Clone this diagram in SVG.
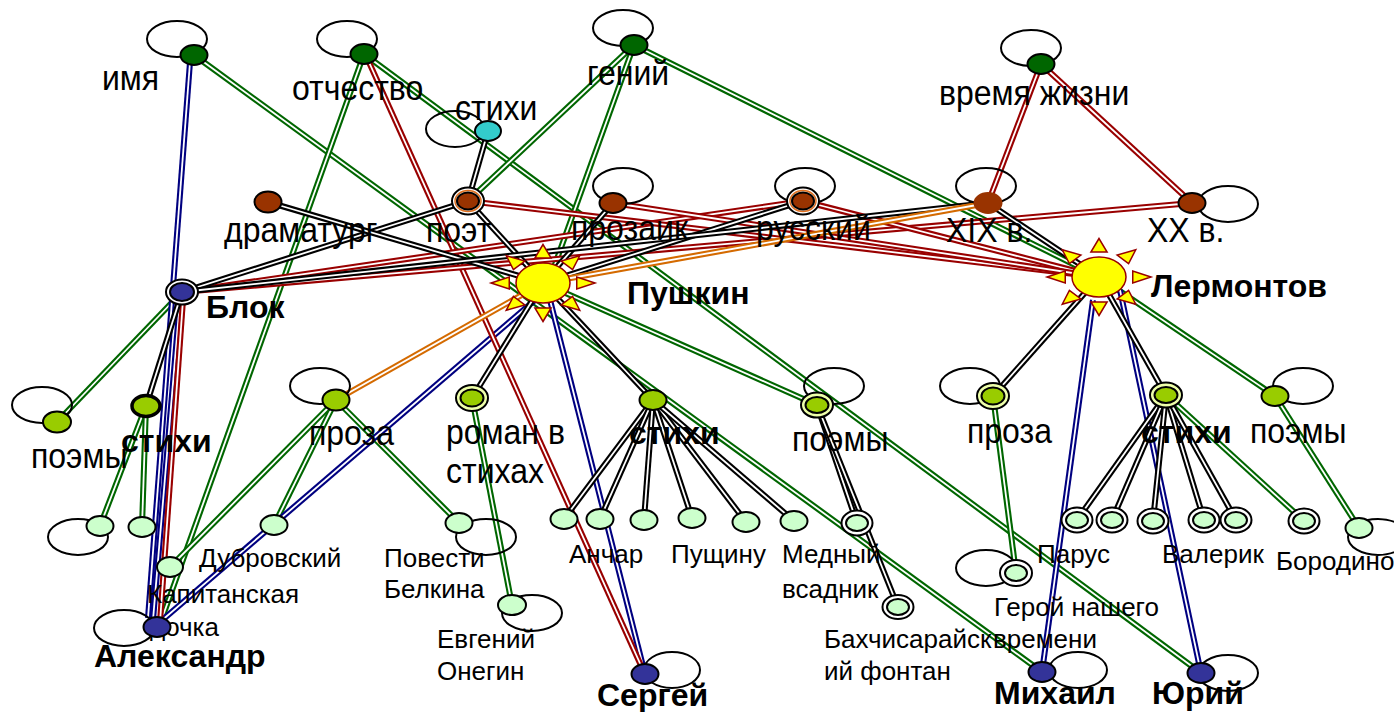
<svg xmlns="http://www.w3.org/2000/svg" xmlns:xlink="http://www.w3.org/1999/xlink" width="1394" height="712" viewBox="0 0 1394 712">
<style>
.c{fill:none;stroke-width:6}
.w{fill:none;stroke:#fff;stroke-width:1.8}
.g{stroke:#006600}.r{stroke:#990000}.b{stroke:#000080}.k{stroke:#000}.o{stroke:#d46a00}
.lp{fill:none;stroke:#000;stroke-width:2}
.nd{stroke:#000;stroke-width:2}
.dg{fill:#006600}.cy{fill:#33cccc}.br{fill:#993300}.nb{fill:#333399}.ol{fill:#99cc00}.lg{fill:#ccffcc}
.ring{fill:#fff;stroke:#000;stroke-width:2}
.t{font-family:"Liberation Sans",Arial,sans-serif;font-size:32px;fill:#000}
.s{font-size:26px}
.bd{font-weight:bold}
.ray{fill:#ffff00;stroke:#990000;stroke-width:1.5}
</style>
<defs>
<g id="sun">
<g transform="scale(1.35,1)">
<polygon class="ray" vector-effect="non-scaling-stroke" points="0,-38.5 -6,-25 6,-25"/>
<polygon class="ray" vector-effect="non-scaling-stroke" points="0,-38.5 -6,-25 6,-25" transform="rotate(45)"/>
<polygon class="ray" vector-effect="non-scaling-stroke" points="0,-38.5 -6,-25 6,-25" transform="rotate(90)"/>
<polygon class="ray" vector-effect="non-scaling-stroke" points="0,-38.5 -6,-25 6,-25" transform="rotate(135)"/>
<polygon class="ray" vector-effect="non-scaling-stroke" points="0,-38.5 -6,-25 6,-25" transform="rotate(180)"/>
<polygon class="ray" vector-effect="non-scaling-stroke" points="0,-38.5 -6,-25 6,-25" transform="rotate(225)"/>
<polygon class="ray" vector-effect="non-scaling-stroke" points="0,-38.5 -6,-25 6,-25" transform="rotate(270)"/>
<polygon class="ray" vector-effect="non-scaling-stroke" points="0,-38.5 -6,-25 6,-25" transform="rotate(315)"/>
<circle class="ray" vector-effect="non-scaling-stroke" r="20"/>
</g>
</g>
</defs>
<rect width="1394" height="712" fill="#fff"/>

<!-- connectors: coloured double lines (outer stroke + white core) -->
<g id="connectors">
<!-- green -->
<path class="c g" d="M194 55L1042 672"/><path class="w" d="M194 55L1042 672"/>
<path class="c g" d="M364 54L160 624"/><path class="w" d="M364 54L160 624"/>
<path class="c g" d="M364 54L1201 673"/><path class="w" d="M364 54L1201 673"/>
<path class="c g" d="M634 45L468 201"/><path class="w" d="M634 45L468 201"/>
<path class="c g" d="M634 45L553 270"/><path class="w" d="M634 45L553 270"/>
<path class="c g" d="M634 45L1099 277"/><path class="w" d="M634 45L1099 277"/>
<path class="c g" d="M182 292L57 422"/><path class="w" d="M182 292L57 422"/>
<path class="c g" d="M146 406L100 526"/><path class="w" d="M146 406L100 526"/>
<path class="c g" d="M146 406L142 527"/><path class="w" d="M146 406L142 527"/>
<path class="c g" d="M336 400L274 525"/><path class="w" d="M336 400L274 525"/>
<path class="c g" d="M336 400L170 567"/><path class="w" d="M336 400L170 567"/>
<path class="c g" d="M336 400L459 523"/><path class="w" d="M336 400L459 523"/>
<path class="c g" d="M472 398L512 605"/><path class="w" d="M472 398L512 605"/>
<path class="c g" d="M543 283L817 405"/><path class="w" d="M543 283L817 405"/>
<path class="c g" d="M1099 277L1275 396"/><path class="w" d="M1099 277L1275 396"/>
<path class="c g" d="M993 396L1016 573"/><path class="w" d="M993 396L1016 573"/>
<path class="c g" d="M1166 395L1304 521"/><path class="w" d="M1166 395L1304 521"/>
<path class="c g" d="M1275 396L1359 528"/><path class="w" d="M1275 396L1359 528"/>
<!-- blue -->
<path class="c b" d="M190 62L148 618"/><path class="w" d="M190 62L148 618"/>
<path class="c b" d="M180 300L153 620"/><path class="w" d="M180 300L153 620"/>
<path class="c b" d="M535 300L160 622"/><path class="w" d="M535 300L160 622"/>
<path class="c b" d="M550 300L645 674"/><path class="w" d="M550 300L645 674"/>
<path class="c b" d="M1093 300L1042 672"/><path class="w" d="M1093 300L1042 672"/>
<path class="c b" d="M1120 290L1201 673"/><path class="w" d="M1120 290L1201 673"/>
<!-- red -->
<path class="c r" d="M368 60L643 670"/><path class="w" d="M368 60L643 670"/>
<path class="c r" d="M1041 64L988 203"/><path class="w" d="M1041 64L988 203"/>
<path class="c r" d="M1041 64L1192 203"/><path class="w" d="M1041 64L1192 203"/>
<path class="c r" d="M1192 203L182 292"/><path class="w" d="M1192 203L182 292"/>
<path class="c r" d="M803 201L182 292"/><path class="w" d="M803 201L182 292"/>
<path class="c r" d="M468 201L1099 277"/><path class="w" d="M468 201L1099 277"/>
<path class="c r" d="M803 201L1099 277"/><path class="w" d="M803 201L1099 277"/>
<path class="c r" d="M613 203L1099 277"/><path class="w" d="M613 203L1099 277"/>
<path class="c r" d="M183 300L160 622"/><path class="w" d="M183 300L160 622"/>
<!-- black -->
<path class="c k" d="M488 131L468 201"/><path class="w" d="M488 131L468 201"/>
<path class="c k" d="M468 201L543 283"/><path class="w" d="M468 201L543 283"/>
<path class="c k" d="M468 201L182 292"/><path class="w" d="M468 201L182 292"/>
<path class="c k" d="M268 202L543 283"/><path class="w" d="M268 202L543 283"/>
<path class="c k" d="M613 203L543 283"/><path class="w" d="M613 203L543 283"/>
<path class="c k" d="M803 201L543 283"/><path class="w" d="M803 201L543 283"/>
<path class="c k" d="M988 203L182 292"/><path class="w" d="M988 203L182 292"/>
<path class="c k" d="M988 203L1099 277"/><path class="w" d="M988 203L1099 277"/>
<path class="c k" d="M182 292L146 406"/><path class="w" d="M182 292L146 406"/>
<path class="c k" d="M543 283L472 398"/><path class="w" d="M543 283L472 398"/>
<path class="c k" d="M543 283L653 400"/><path class="w" d="M543 283L653 400"/>
<path class="c k" d="M653 400L564 519"/><path class="w" d="M653 400L564 519"/>
<path class="c k" d="M653 400L600 519"/><path class="w" d="M653 400L600 519"/>
<path class="c k" d="M653 400L644 520"/><path class="w" d="M653 400L644 520"/>
<path class="c k" d="M653 400L692 518"/><path class="w" d="M653 400L692 518"/>
<path class="c k" d="M653 400L746 522"/><path class="w" d="M653 400L746 522"/>
<path class="c k" d="M653 400L794 521"/><path class="w" d="M653 400L794 521"/>
<path class="c k" d="M817 405L857 523"/><path class="w" d="M817 405L857 523"/>
<path class="c k" d="M817 405L898 607"/><path class="w" d="M817 405L898 607"/>
<path class="c k" d="M1099 277L993 396"/><path class="w" d="M1099 277L993 396"/>
<path class="c k" d="M1099 277L1166 395"/><path class="w" d="M1099 277L1166 395"/>
<path class="c k" d="M1166 395L1077 520"/><path class="w" d="M1166 395L1077 520"/>
<path class="c k" d="M1166 395L1112 520"/><path class="w" d="M1166 395L1112 520"/>
<path class="c k" d="M1166 395L1153 521"/><path class="w" d="M1166 395L1153 521"/>
<path class="c k" d="M1166 395L1204 520"/><path class="w" d="M1166 395L1204 520"/>
<path class="c k" d="M1166 395L1236 520"/><path class="w" d="M1166 395L1236 520"/>
<!-- orange -->
<path class="c o" d="M336 400L543 283"/><path class="w" d="M336 400L543 283"/>
<path class="c o" d="M543 283L988 203"/><path class="w" d="M543 283L988 203"/>
</g>

<!-- top-level properties -->
<g id="n-imya"><ellipse class="lp" cx="177" cy="39" rx="30" ry="18"/><ellipse class="nd dg" cx="194" cy="55" rx="13.5" ry="10"/><text class="t" transform="translate(102,90) scale(1,1.08)">имя</text></g>
<g id="n-otchestvo"><ellipse class="lp" cx="347" cy="39" rx="30" ry="18"/><ellipse class="nd dg" cx="364" cy="54" rx="13.5" ry="10"/><text class="t" transform="translate(292,100) scale(1,1.08)">отчество</text></g>
<g id="n-genij"><ellipse class="lp" cx="623" cy="28" rx="30" ry="18"/><ellipse class="nd dg" cx="634" cy="45" rx="13.5" ry="10"/><text class="t" transform="translate(587,85) scale(1,1.08)">гений</text></g>
<g id="n-stihi-top"><ellipse class="lp" cx="455" cy="129" rx="29" ry="18"/><ellipse class="nd cy" cx="488" cy="131" rx="13" ry="10"/><text class="t" transform="translate(455,120) scale(1,1.08)">стихи</text></g>
<g id="n-vremya"><ellipse class="lp" cx="1031" cy="48" rx="30" ry="18"/><ellipse class="nd dg" cx="1041" cy="64" rx="13.5" ry="10"/><text class="t" transform="translate(939,105) scale(1,1.08)">время жизни</text></g>

<!-- categories -->
<g id="n-dramaturg"><ellipse class="nd br" cx="268" cy="202" rx="13.5" ry="10.5"/><text class="t" transform="translate(224,242) scale(1,1.08)">драматург</text></g>
<g id="n-poet"><ellipse class="ring" cx="468" cy="201" rx="16" ry="13.5"/><ellipse cx="468" cy="201" rx="13" ry="10.5" fill="none" stroke="#e07020" stroke-width="1.5"/><ellipse class="nd br" cx="468" cy="201" rx="11" ry="8.5"/><text class="t" transform="translate(426,242) scale(1,1.08)">поэт</text></g>
<g id="n-prozaik"><ellipse class="lp" cx="623" cy="186" rx="30" ry="18"/><ellipse class="nd br" cx="613" cy="203" rx="13.5" ry="10"/><text class="t" transform="translate(571,240) scale(1,1.08)">прозаик</text></g>
<g id="n-russkij"><ellipse class="lp" cx="805" cy="186" rx="30" ry="18"/><ellipse class="ring" cx="803" cy="201" rx="16" ry="13.5"/><ellipse cx="803" cy="201" rx="13" ry="10.5" fill="none" stroke="#e07020" stroke-width="1.5"/><ellipse class="nd br" cx="803" cy="201" rx="11" ry="8.5"/><text class="t" transform="translate(756,240) scale(1,1.08)">русский</text></g>
<g id="n-xix"><ellipse class="lp" cx="986" cy="186" rx="30" ry="18"/><ellipse class="br" cx="988" cy="203" rx="13.5" ry="10" stroke="#993300" stroke-width="2"/><text class="t" transform="translate(946,242) scale(1,1.08)">XIX в.</text></g>
<g id="n-xx"><ellipse class="lp" cx="1228" cy="204" rx="30" ry="18"/><ellipse class="nd br" cx="1192" cy="203" rx="13.5" ry="10"/><text class="t" transform="translate(1147,242) scale(1,1.08)">XX в.</text></g>

<!-- poets -->
<g id="n-pushkin"><use xlink:href="#sun" href="#sun" transform="translate(543,283)"/><text class="t bd" x="627" y="304">Пушкин</text></g>
<g id="n-lermontov"><use xlink:href="#sun" href="#sun" transform="translate(1099,277)"/><text class="t bd" x="1151" y="297">Лермонтов</text></g>
<g id="n-blok"><ellipse class="ring" cx="182" cy="292" rx="16" ry="12.5"/><ellipse class="nd nb" cx="182" cy="292" rx="12" ry="9"/><text class="t bd" x="206" y="318">Блок</text></g>

<!-- genres -->
<g id="n-blok-poemy"><ellipse class="lp" cx="42" cy="405" rx="30" ry="18"/><ellipse class="nd ol" cx="57" cy="422" rx="14" ry="10.5"/><text class="t" transform="translate(31,468) scale(1,1.08)">поэмы</text></g>
<g id="n-blok-stihi"><ellipse class="ol" cx="146" cy="406" rx="14" ry="10.5" stroke="#000" stroke-width="3.5"/><text class="t bd" x="121" y="452">стихи</text></g>
<g id="n-push-proza"><ellipse class="lp" cx="320" cy="386" rx="30" ry="18"/><ellipse class="nd ol" cx="336" cy="400" rx="13.5" ry="10.5"/><text class="t" transform="translate(309,445) scale(1,1.08)">проза</text></g>
<g id="n-push-roman"><ellipse cx="472" cy="398" rx="16" ry="13" fill="#eeffaa" stroke="#000" stroke-width="2"/><ellipse class="nd ol" cx="472" cy="398" rx="11.5" ry="8.5"/><text class="t" transform="translate(446,444) scale(1,1.08)">роман в</text><text class="t" transform="translate(446,483) scale(1,1.08)">стихах</text></g>
<g id="n-push-stihi"><ellipse class="nd ol" cx="653" cy="400" rx="13.5" ry="10"/><text class="t bd" x="629" y="444">стихи</text></g>
<g id="n-push-poemy"><ellipse class="lp" cx="834" cy="386" rx="30" ry="18"/><ellipse cx="817" cy="405" rx="16" ry="12.5" fill="#eeffaa" stroke="#000" stroke-width="2"/><ellipse class="nd ol" cx="817" cy="405" rx="11.5" ry="8"/><text class="t" transform="translate(792,451) scale(1,1.08)">поэмы</text></g>
<g id="n-lerm-proza"><ellipse class="lp" cx="970" cy="386" rx="30" ry="18"/><ellipse cx="993" cy="396" rx="16" ry="13" fill="#eeffaa" stroke="#000" stroke-width="2"/><ellipse class="nd ol" cx="993" cy="396" rx="11.5" ry="8.5"/><text class="t" transform="translate(967,443) scale(1,1.08)">проза</text></g>
<g id="n-lerm-stihi"><ellipse cx="1166" cy="395" rx="16" ry="12.5" fill="#eeffaa" stroke="#000" stroke-width="2"/><ellipse class="nd ol" cx="1166" cy="395" rx="11.5" ry="8"/><text class="t bd" x="1141" y="443">стихи</text></g>
<g id="n-lerm-poemy"><ellipse class="lp" cx="1303" cy="386" rx="30" ry="18"/><ellipse class="nd ol" cx="1275" cy="396" rx="13.5" ry="10"/><text class="t" transform="translate(1250,443) scale(1,1.08)">поэмы</text></g>

<!-- works -->
<g id="n-blok-w1"><ellipse class="lp" cx="78" cy="537" rx="30" ry="18"/><ellipse class="nd lg" cx="100" cy="526" rx="13.5" ry="10"/></g>
<g id="n-blok-w2"><ellipse class="nd lg" cx="142" cy="527" rx="13.5" ry="10"/></g>
<g id="n-dubrovskij"><ellipse class="nd lg" cx="274" cy="525" rx="13.5" ry="10"/><text class="t s" x="199" y="567">Дубровский</text></g>
<g id="n-kapitanskaya"><ellipse class="nd lg" cx="170" cy="567" rx="13" ry="10"/><text class="t s" x="147" y="603">Капитанская</text><text class="t s" x="150" y="636">дочка</text></g>
<g id="n-povesti"><ellipse class="lp" cx="486" cy="537" rx="30" ry="18"/><ellipse class="nd lg" cx="459" cy="523" rx="13.5" ry="10"/><text class="t s" x="384" y="567">Повести</text><text class="t s" x="384" y="598">Белкина</text></g>
<g id="n-onegin"><ellipse class="lp" cx="532" cy="613" rx="30" ry="18"/><ellipse class="nd lg" cx="512" cy="605" rx="14" ry="10"/><text class="t s" x="437" y="648">Евгений</text><text class="t s" x="437" y="680">Онегин</text></g>
<g id="n-push-s1"><ellipse class="nd lg" cx="564" cy="519" rx="13.5" ry="10"/></g>
<g id="n-push-s2"><ellipse class="nd lg" cx="600" cy="519" rx="13.5" ry="10"/><text class="t s" x="569" y="563">Анчар</text></g>
<g id="n-push-s3"><ellipse class="nd lg" cx="644" cy="520" rx="13.5" ry="10"/></g>
<g id="n-push-s4"><ellipse class="nd lg" cx="692" cy="518" rx="13.5" ry="10"/><text class="t s" x="671" y="563">Пущину</text></g>
<g id="n-push-s5"><ellipse class="nd lg" cx="746" cy="522" rx="13.5" ry="10"/></g>
<g id="n-push-s6"><ellipse class="nd lg" cx="794" cy="521" rx="13.5" ry="10"/></g>
<g id="n-mednyj"><ellipse class="ring" cx="857" cy="523" rx="15.5" ry="12.5"/><ellipse class="nd lg" cx="857" cy="523" rx="11" ry="8"/><text class="t s" x="782" y="563">Медный</text><text class="t s" x="782" y="598">всадник</text></g>
<g id="n-bahchisaraj"><ellipse class="ring" cx="898" cy="607" rx="15.5" ry="12"/><ellipse class="nd lg" cx="898" cy="607" rx="11" ry="8"/><text class="t s" x="824" y="648">Бахчисарайск</text><text class="t s" x="824" y="680">ий фонтан</text></g>
<g id="n-geroj"><ellipse class="lp" cx="986" cy="568" rx="30" ry="18"/><ellipse class="ring" cx="1016" cy="573" rx="16" ry="13"/><ellipse class="nd lg" cx="1016" cy="573" rx="11" ry="8"/><text class="t s" x="994" y="616">Герой нашего</text><text class="t s" x="993" y="648">времени</text></g>
<g id="n-lerm-s1"><ellipse class="ring" cx="1077" cy="520" rx="15.5" ry="12.5"/><ellipse class="nd lg" cx="1077" cy="520" rx="11" ry="8"/><text class="t s" x="1037" y="563">Парус</text></g>
<g id="n-lerm-s2"><ellipse class="ring" cx="1112" cy="520" rx="15.5" ry="12.5"/><ellipse class="nd lg" cx="1112" cy="520" rx="11" ry="8"/></g>
<g id="n-lerm-s3"><ellipse class="ring" cx="1153" cy="521" rx="15.5" ry="12.5"/><ellipse class="nd lg" cx="1153" cy="521" rx="11" ry="8"/></g>
<g id="n-lerm-s4"><ellipse class="ring" cx="1204" cy="520" rx="15.5" ry="12.5"/><ellipse class="nd lg" cx="1204" cy="520" rx="11" ry="8"/><text class="t s" x="1162" y="563">Валерик</text></g>
<g id="n-lerm-s5"><ellipse class="ring" cx="1236" cy="520" rx="15.5" ry="12.5"/><ellipse class="nd lg" cx="1236" cy="520" rx="11" ry="8"/></g>
<g id="n-lerm-s6"><ellipse class="ring" cx="1304" cy="521" rx="15.5" ry="12.5"/><ellipse class="nd lg" cx="1304" cy="521" rx="11" ry="8"/></g>
<g id="n-borodino"><ellipse class="lp" cx="1378" cy="537" rx="30" ry="18"/><ellipse class="nd lg" cx="1359" cy="528" rx="13.5" ry="10"/><text class="t s" x="1276" y="570">Бородино</text></g>

<!-- first names -->
<g id="n-aleksandr"><ellipse class="lp" cx="124" cy="628" rx="30" ry="18"/><ellipse class="nd nb" cx="157" cy="627" rx="13.5" ry="10"/><text class="t bd" x="94" y="667">Александр</text></g>
<g id="n-sergej"><ellipse class="lp" cx="672" cy="670" rx="28" ry="18"/><ellipse class="nd nb" cx="645" cy="674" rx="13.5" ry="10"/><text class="t bd" x="597" y="706">Сергей</text></g>
<g id="n-mihail"><ellipse class="lp" cx="1078" cy="670" rx="29" ry="18"/><ellipse class="nd nb" cx="1042" cy="672" rx="13.5" ry="10"/><text class="t bd" x="994" y="704">Михаил</text></g>
<g id="n-yurij"><ellipse class="lp" cx="1228" cy="673" rx="30" ry="18"/><ellipse class="nd nb" cx="1201" cy="673" rx="13.5" ry="10"/><text class="t bd" x="1152" y="704">Юрий</text></g>
</svg>
